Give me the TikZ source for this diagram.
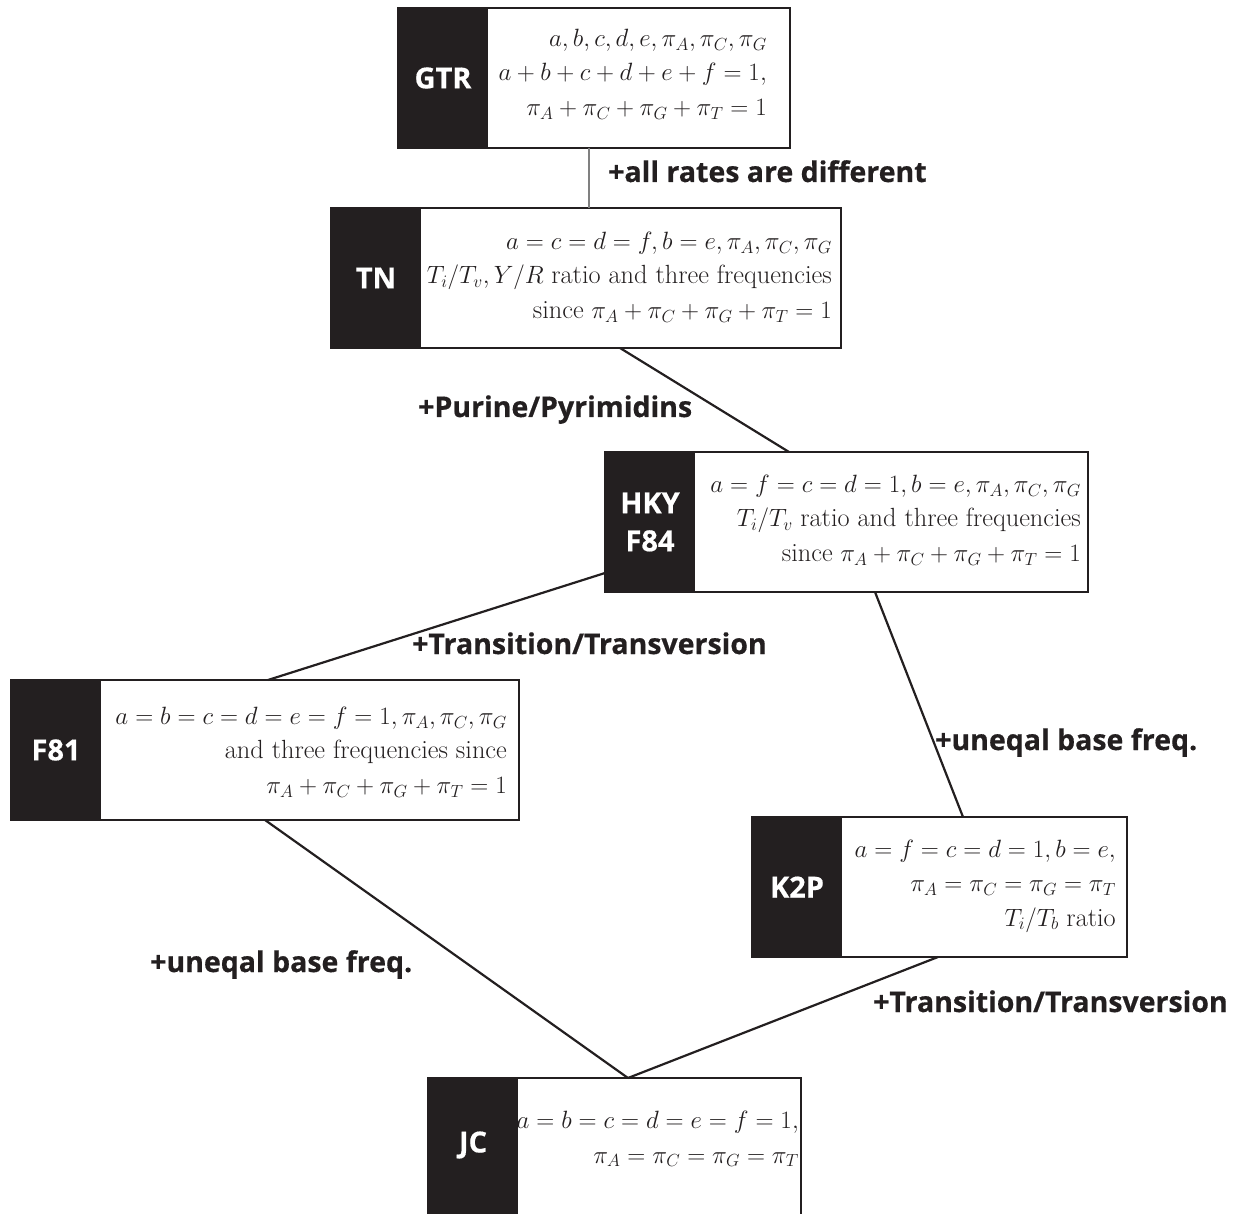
\RequirePackage{fix-cm}
\documentclass[tikz,border=0pt]{standalone}
\usepackage{fontspec}
\setmainfont{Latin Modern Roman}
\newfontfamily\labfont{Open Sans}[FakeBold=0.5]
\usetikzlibrary{calc}
\definecolor{ink}{HTML}{231F20}
\newcommand{\rt}[1]{{\fontsize{26.3}{34.5}\selectfont #1}}
\tikzset{
 box/.style={draw=ink, line width=2pt, fill=white, outer sep=0pt, inner sep=0pt, anchor=north west, minimum height=140pt},
 dark/.style={fill=ink, outer sep=0pt, inner sep=0pt, anchor=north west, minimum width=90pt, minimum height=140pt, text=white, font=\labfont\bfseries\fontsize{29}{38}\selectfont, align=center},
 txt/.style={anchor=east, inner sep=0pt, align=right, font=\fontsize{25}{34.5}\selectfont, text=ink},
 lab/.style={anchor=base west, inner sep=0pt, font=\labfont\bfseries\fontsize{28.5}{34}\selectfont, text=ink},
 link/.style={draw=ink, line width=2.2pt},
 thinlink/.style={draw=gray, line width=1.3pt},
}
\begin{document}
\begin{tikzpicture}[x=1pt,y=-1pt]
\useasboundingbox (0,0) rectangle (1235,1214);
% GTR
\node[box, minimum width=392pt] (gtr) at (398,8) {};
\node[dark] (gtrL) at (gtr.north west) {GTR};
\node[txt] (gtrT) at ([xshift=-23pt,yshift=4pt]gtr.east) {$a,b,c,d,e,\pi_A,\pi_C,\pi_G$\\ $a+b+c+d+e+f=1,$\\ $\pi_A+\pi_C+\pi_G+\pi_T=1$};
% TN
\node[box, minimum width=510pt] (tn) at (331,208) {};
\node[dark] (tnL) at (tn.north west) {TN};
\node[txt] (tnT) at ([xshift=-9pt,yshift=1pt]tn.east) {$a=c=d=f,b=e,\pi_A,\pi_C,\pi_G$\\ $T_i/T_v,Y/R$ \rt{ratio and three frequencies}\\ \rt{since} $\pi_A+\pi_C+\pi_G+\pi_T=1$};
% HKY
\node[box, minimum width=483pt] (hky) at (605,452) {};
\node[dark] (hkyL) at (hky.north west) {HKY\\F84};
\node[txt] (hkyT) at ([xshift=-7pt,yshift=2pt]hky.east) {$a=f=c=d=1,b=e,\pi_A,\pi_C,\pi_G$\\ $T_i/T_v$ \rt{ratio and three frequencies}\\ \rt{since} $\pi_A+\pi_C+\pi_G+\pi_T=1$};
% F81
\node[box, minimum width=508pt] (f81) at (11,680) {};
\node[dark] (f81L) at (f81.north west) {F81};
\node[txt] (f81T) at ([xshift=-12pt,yshift=-2pt]f81.east) {$a=b=c=d=e=f=1,\pi_A,\pi_C,\pi_G$\\ \rt{and three frequencies since}\\ $\pi_A+\pi_C+\pi_G+\pi_T=1$};
% K2P
\node[box, minimum width=375pt] (k2p) at (752,817) {};
\node[dark] (k2pL) at (k2p.north west) {K2P};
\node[txt] (k2pT) at ([xshift=-11pt,yshift=1pt]k2p.east) {$a=f=c=d=1,b=e,$\\ $\pi_A=\pi_C=\pi_G=\pi_T$\\ $T_i/T_b$ \rt{ratio}};
% JC
\node[box, minimum width=373pt, minimum height=160pt] (jc) at (428,1078) {};
\node[dark, minimum height=160pt] (jcL) at (jc.north west) {};
\node[text=white, font=\labfont\bfseries\fontsize{29}{38}\selectfont] (jcN) at ([yshift=-67pt]jcL.north) {JC};
\node[txt, anchor=north east] (jcT) at ([xshift=-2pt,yshift=-33pt]jc.north east) {$a=b=c=d=e=f=1,$\\ $\pi_A=\pi_C=\pi_G=\pi_T$};
% connectors
\draw[thinlink] ([xshift=191pt]gtr.south west) -- ([xshift=258pt]tn.north west);
\draw[link] ([xshift=289pt]tn.south west) -- ([xshift=184pt]hky.north west);
\draw[link] ([yshift=-121pt]hky.north west) -- ([xshift=257pt]f81.north west);
\draw[link] ([xshift=270pt]hky.south west) -- ([xshift=211pt]k2p.north west);
\draw[link] ([xshift=254pt]f81.south west) -- ([xshift=200pt]jc.north west);
\draw[link] ([xshift=186pt]k2p.south west) -- ([xshift=200pt]jc.north west);
% labels
\node[lab] (l1) at (608,182) {+all rates are different};
\node[lab] (l2) at (418,417) {+Purine/Pyrimidins};
\node[lab] (l3) at (412,654) {+Transition/Transversion};
\node[lab] (l4) at (935,750) {+uneqal base freq.};
\node[lab] (l5) at (150,972) {+uneqal base freq.};
\node[lab] (l6) at (873,1012) {+Transition/Transversion};
\end{tikzpicture}
\end{document}
